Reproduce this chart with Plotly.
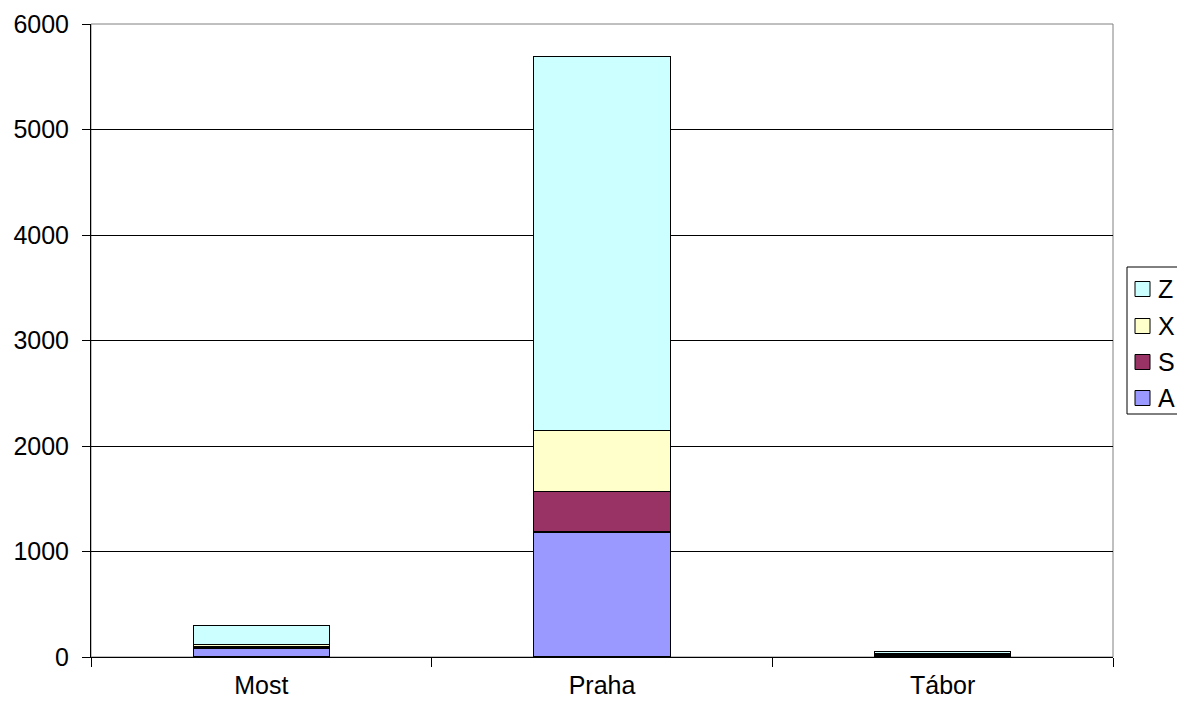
import plotly.graph_objects as go

categories = ["Most", "Praha", "Tábor"]
series_names = ["A", "S", "X", "Z"]
values_A = [85, 1185, 15]
values_S = [15, 380, 5]
values_X = [15, 578, 10]
values_Z = [180, 3545, 25]
colors = {"A": "#9999FF", "S": "#993366", "X": "#FFFFCC", "Z": "#CCFFFF"}
y_ticks = [0, 1000, 2000, 3000, 4000, 5000, 6000]

data = {"A": values_A, "S": values_S, "X": values_X, "Z": values_Z}

# page has an 8px body margin; figure placed at (8, 8)
OFF = 8
W, H = 1185 - 2 * OFF, 709 - 2 * OFF
ML, MR, MT = 91 - OFF, 0, 24 - OFF
MB = H - (657 - OFF)
plot_w = W - ML - MR
plot_h = H - MT - MB
dom_right = (1113 - OFF - ML) / plot_w


def px(x):
    return (x - OFF - ML) / plot_w


def py(y):
    return (H - MB - (y - OFF)) / plot_h


fig = go.Figure()
for name in series_names:
    fig.add_trace(go.Bar(
        x=categories, y=data[name], name=name,
        marker=dict(color=colors[name], line=dict(color="black", width=1.1)),
        width=0.4,
    ))

shapes = [dict(type="rect", xref="x domain", yref="y domain", x0=0, x1=1, y0=0, y1=1,
               line=dict(color="#808080", width=1), layer="below")]
annotations = []

# legend (drawn manually, reversed order like the reference)
shapes.append(dict(type="rect", xref="paper", yref="paper",
                   x0=px(1127), x1=px(1182), y0=py(267), y1=py(414),
                   line=dict(color="black", width=1), fillcolor="white"))
row_centers = [289, 326, 362, 398]
for name, yc in zip(reversed(series_names), row_centers):
    shapes.append(dict(type="rect", xref="paper", yref="paper",
                       x0=px(1135), x1=px(1150), y0=py(yc - 7.5), y1=py(yc + 7.5),
                       line=dict(color="black", width=1), fillcolor=colors[name]))
    annotations.append(dict(text=name, xref="paper", yref="paper",
                            x=px(1156), y=py(yc), xanchor="left", yanchor="middle",
                            showarrow=False, font=dict(size=25)))

fig.update_layout(
    barmode="stack",
    width=W, height=H,
    margin=dict(l=ML, r=MR, t=MT, b=MB, autoexpand=False),
    paper_bgcolor="white", plot_bgcolor="white",
    font=dict(family="Liberation Sans, Arial, sans-serif", size=25, color="black"),
    showlegend=False,
    shapes=shapes,
    annotations=annotations,
)
fig.update_xaxes(
    domain=[0, dom_right],
    showline=True, linecolor="black", linewidth=1,
    ticks="outside", tickson="boundaries", ticklen=9, tickcolor="black",
    ticklabelstandoff=6,
    showgrid=False, automargin=False,
)
fig.update_yaxes(
    range=[0, 6000], tickvals=y_ticks,
    showline=True, linecolor="black", linewidth=1,
    ticks="outside", ticklen=8, tickcolor="black",
    ticklabelstandoff=8,
    showgrid=True, gridcolor="black", gridwidth=1,
    zeroline=False, automargin=False,
)

fig.write_html("out.html")
